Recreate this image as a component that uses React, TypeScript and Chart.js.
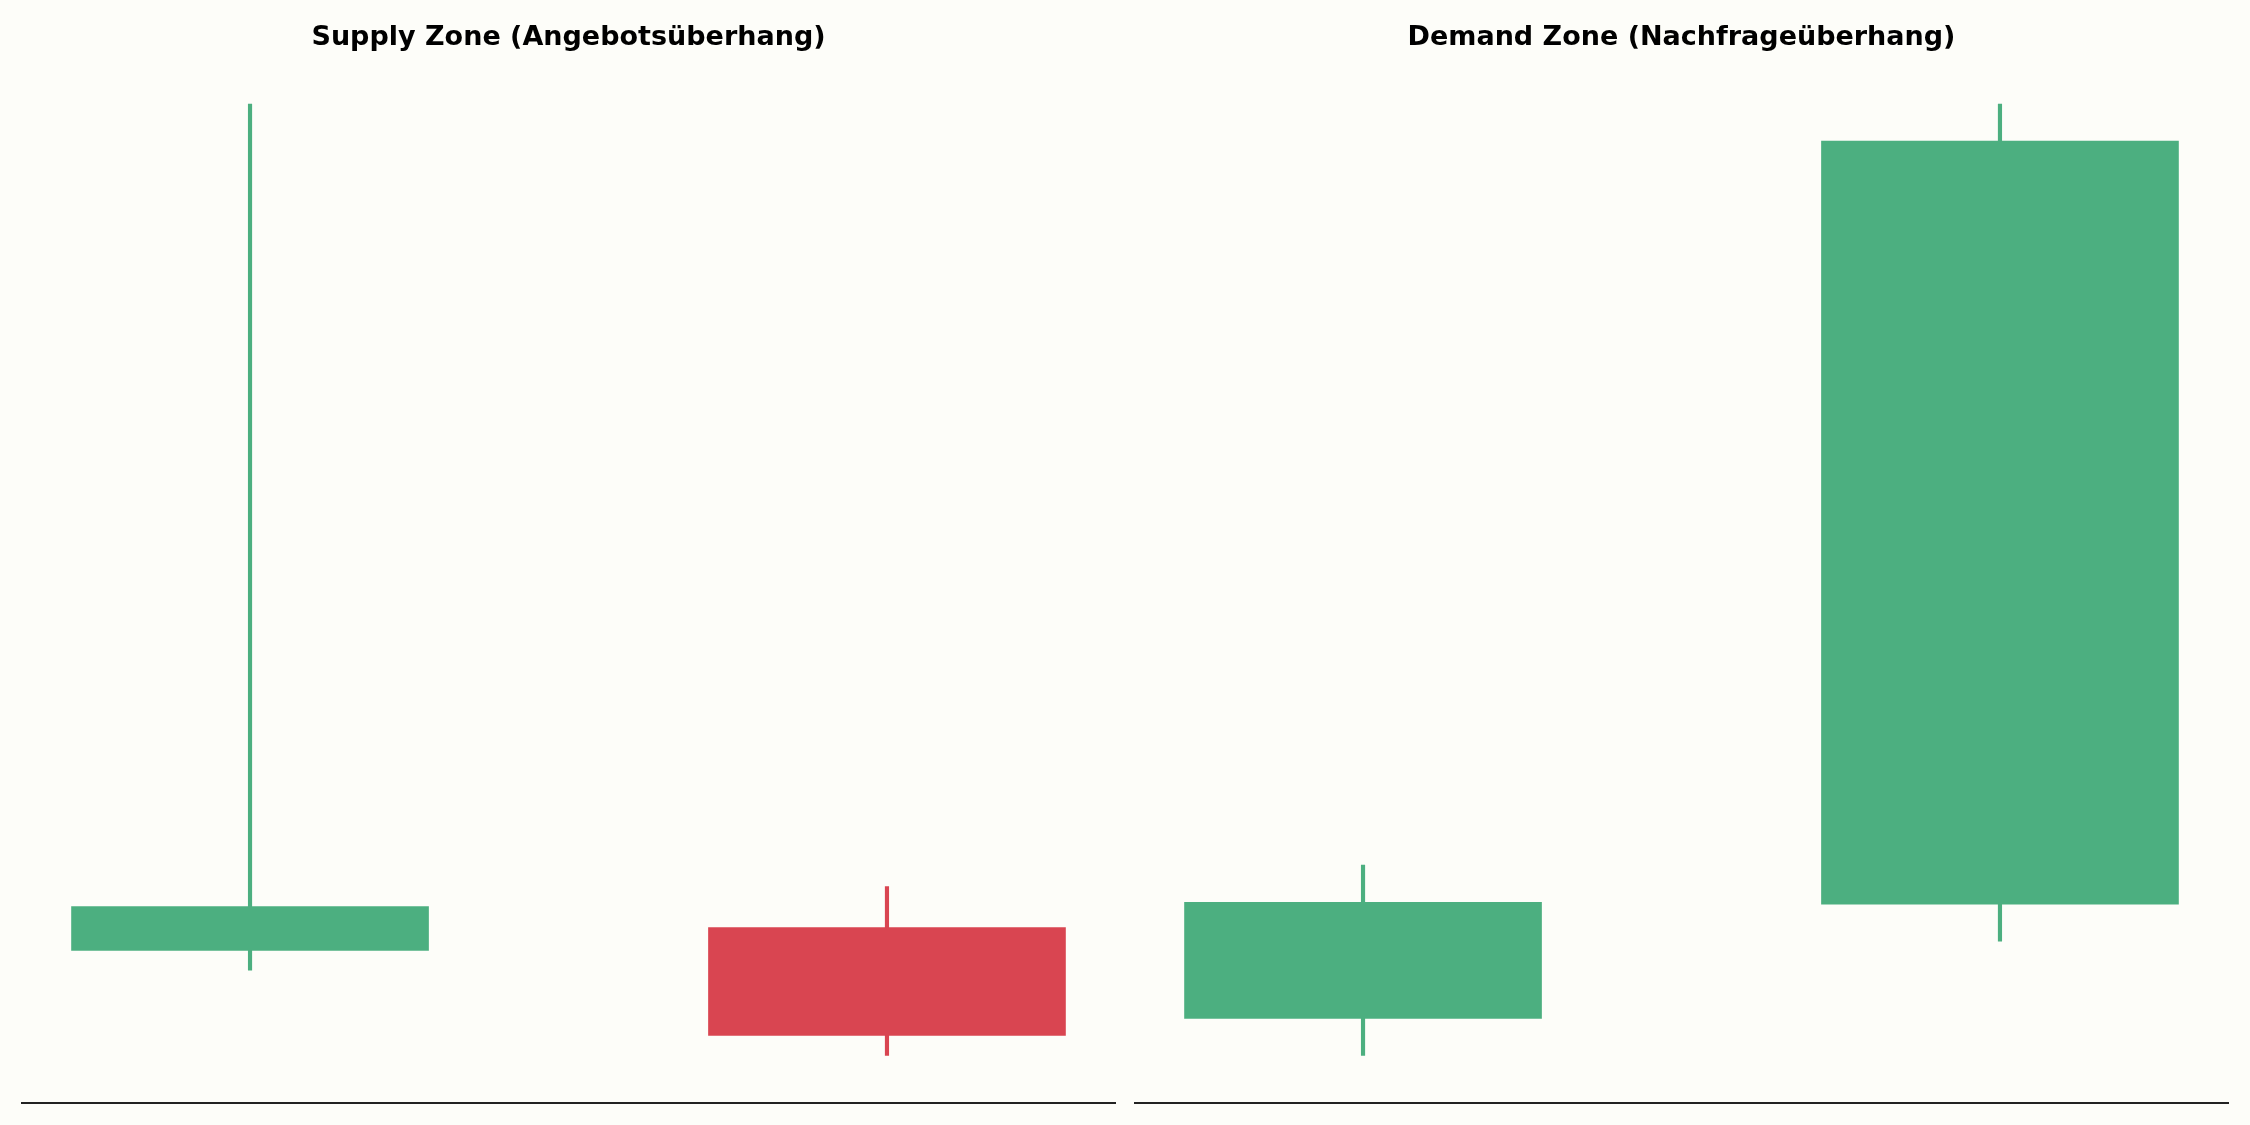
import React, { useEffect, useRef } from 'react';
import { Chart, registerables } from 'chart.js';

Chart.register(...registerables);

// candle positions (index axis) and OHLC values
const candleX = [0, 1];

const supplyOpen = [102.21, 102.69];
const supplyClose = [103.13, 100.42];
const supplyHigh = [120.0, 103.55];
const supplyLow = [101.79, 100.0];

const demandOpen = [100.78, 103.18];
const demandClose = [103.22, 119.22];
const demandHigh = [104.0, 120.0];
const demandLow = [100.0, 102.4];

const UP = '#4CAF80';
const DOWN = '#D94551';
const BG = '#FDFDF9';

interface PanelProps {
  title: string;
  open: number[];
  close: number[];
  high: number[];
  low: number[];
  padLeft: number;
  padRight: number;
}

const CandlePanel: React.FC<PanelProps> = ({ title, open, close, high, low, padLeft, padRight }) => {
  const canvasRef = useRef<HTMLCanvasElement>(null);
  const chartInstance = useRef<Chart | null>(null);

  useEffect(() => {
    if (!canvasRef.current) return;
    if (chartInstance.current) chartInstance.current.destroy();

    const colors = candleX.map((_, i) => (close[i] >= open[i] ? UP : DOWN));

    chartInstance.current = new Chart(canvasRef.current, {
      type: 'bar',
      data: {
        datasets: [
          {
            label: 'Body',
            data: candleX.map((x, i) => ({ x, y: [open[i], close[i]] })) as any,
            backgroundColor: colors,
            borderWidth: 0,
            grouped: false,
            barThickness: 357,
          },
          {
            label: 'Wick',
            data: candleX.map((x, i) => ({ x, y: [low[i], high[i]] })) as any,
            backgroundColor: colors,
            borderWidth: 0,
            grouped: false,
            barThickness: 3.5,
          },
        ],
      },
      options: {
        responsive: false,
        animation: false,
        devicePixelRatio: 1,
        layout: { padding: { left: padLeft, right: padRight, top: 0, bottom: 22 } },
        plugins: {
          legend: { display: false },
          tooltip: { enabled: false },
          title: {
            display: true,
            text: title,
            color: '#000000',
            font: { family: 'DejaVu Sans', size: 27, weight: 'bold', lineHeight: 1.2 },
            padding: { top: 21.3, bottom: 2.8 },
          },
        },
        scales: {
          x: {
            type: 'linear',
            min: -0.358,
            max: 1.358,
            offset: false,
            ticks: { display: false },
            grid: { display: false, drawTicks: false },
            border: { display: true, color: '#222222', width: 2 },
          },
          y: {
            display: false,
            min: 99,
            max: 121,
            beginAtZero: false,
          },
        },
      },
    });

    return () => {
      if (chartInstance.current) {
        chartInstance.current.destroy();
        chartInstance.current = null;
      }
    };
  }, [title, open, close, high, low, padLeft, padRight]);

  return <canvas ref={canvasRef} width={1125} height={1125} style={{ width: 1125, height: 1125, display: 'block' }} />;
};

const App: React.FC = () => {
  return (
    <div
      style={{
        position: 'fixed',
        left: 0,
        top: 0,
        width: 2250,
        height: 1125,
        background: BG,
        display: 'flex',
      }}
    >
      <CandlePanel
        title="Supply Zone (Angebotsüberhang)"
        open={supplyOpen}
        close={supplyClose}
        high={supplyHigh}
        low={supplyLow}
        padLeft={22}
        padRight={10}
      />
      <CandlePanel
        title="Demand Zone (Nachfrageüberhang)"
        open={demandOpen}
        close={demandClose}
        high={demandHigh}
        low={demandLow}
        padLeft={10}
        padRight={22}
      />
    </div>
  );
};

export default App;
